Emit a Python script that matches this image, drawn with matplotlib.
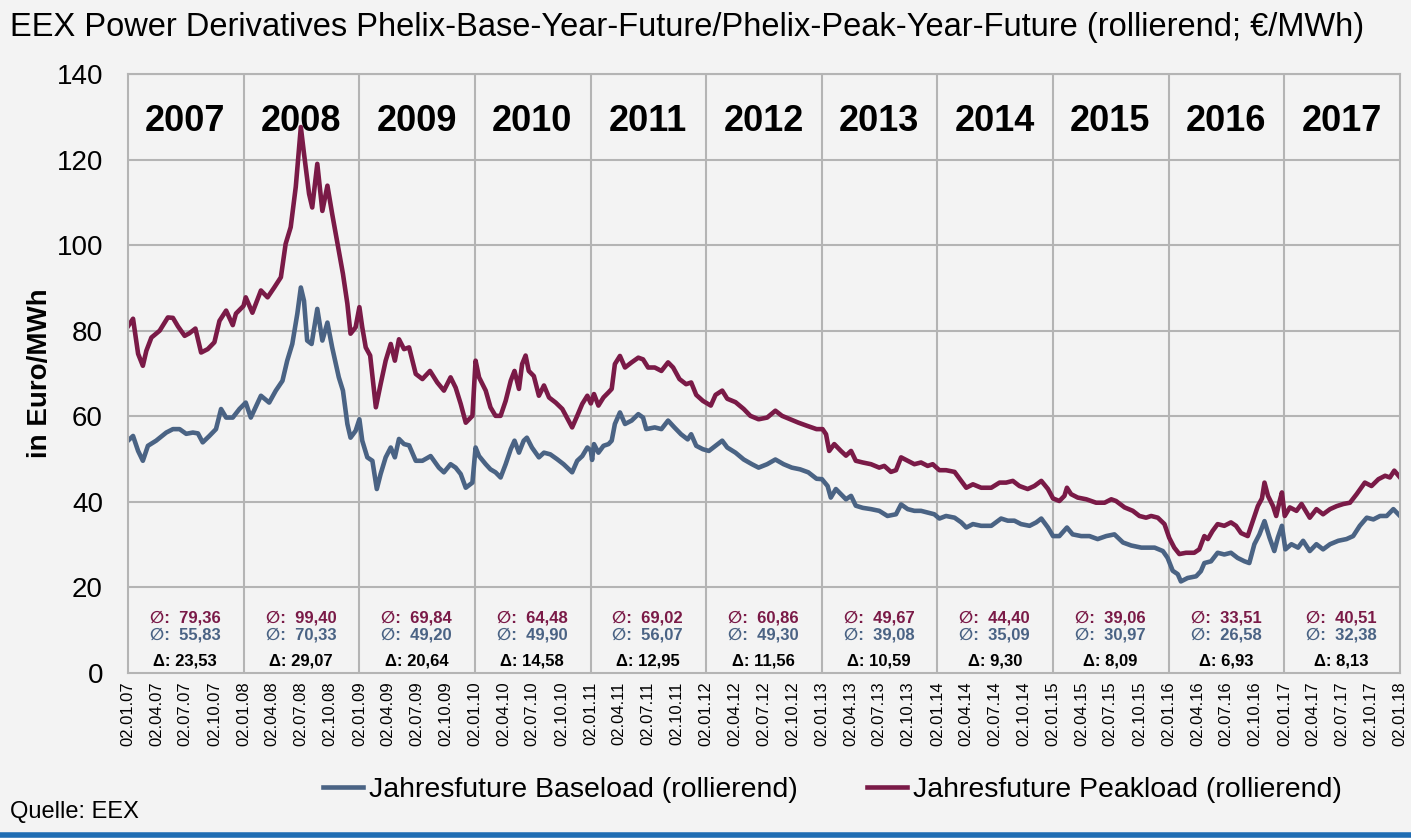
import matplotlib
matplotlib.use("Agg")
import matplotlib.pyplot as plt
from matplotlib.lines import Line2D
import pandas as pd

plt.rcParams['font.family'] = ['Liberation Sans', 'DejaVu Sans']

# Jahresfuture Peakload (rollierend)
peak_dates = [
    "2007-01-02", "2007-01-18", "2007-02-03", "2007-02-18", "2007-03-01", "2007-03-17",
    "2007-04-12", "2007-05-08", "2007-05-24", "2007-06-09", "2007-06-30", "2007-07-15",
    "2007-08-03", "2007-08-21", "2007-09-11", "2007-10-02", "2007-10-18", "2007-11-08",
    "2007-11-29", "2007-12-09",
    "2008-01-02", "2008-01-09", "2008-01-30", "2008-02-26", "2008-03-18", "2008-04-08",
    "2008-04-29", "2008-05-14", "2008-05-30", "2008-06-15", "2008-07-01", "2008-07-11",
    "2008-07-27", "2008-08-06", "2008-08-22", "2008-09-07", "2008-09-23", "2008-10-08",
    "2008-10-29", "2008-11-11", "2008-11-25", "2008-12-05", "2008-12-21",
    "2009-01-02", "2009-01-11", "2009-01-22", "2009-02-05", "2009-02-23", "2009-03-10",
    "2009-03-26", "2009-04-11", "2009-04-24", "2009-05-07", "2009-05-23", "2009-06-08",
    "2009-06-29", "2009-07-20", "2009-08-13", "2009-09-05", "2009-09-26", "2009-10-17",
    "2009-11-02", "2009-11-18", "2009-12-04", "2009-12-25",
    "2010-01-04", "2010-01-15", "2010-02-05", "2010-02-20", "2010-03-08", "2010-03-24",
    "2010-04-09", "2010-04-25", "2010-05-07", "2010-05-21", "2010-05-31", "2010-06-11",
    "2010-06-21", "2010-07-07", "2010-07-23", "2010-08-08", "2010-08-24", "2010-09-14",
    "2010-10-05", "2010-11-05", "2010-11-21", "2010-12-07", "2010-12-23",
    "2011-01-03", "2011-01-13", "2011-01-27", "2011-02-12", "2011-02-28", "2011-03-10",
    "2011-03-20", "2011-04-05", "2011-04-21", "2011-05-12", "2011-06-02", "2011-06-17",
    "2011-07-03", "2011-07-24", "2011-08-14", "2011-09-04", "2011-09-20", "2011-10-10",
    "2011-10-31", "2011-11-16", "2011-12-02", "2011-12-23",
    "2012-01-17", "2012-02-01", "2012-02-22", "2012-03-09", "2012-04-04", "2012-04-30",
    "2012-05-21", "2012-06-16", "2012-07-13", "2012-08-08", "2012-08-29", "2012-09-24",
    "2012-10-20", "2012-11-15", "2012-12-16",
    "2013-01-04", "2013-01-15", "2013-01-25", "2013-02-10", "2013-03-03", "2013-03-19",
    "2013-04-04", "2013-04-19", "2013-05-11", "2013-06-06", "2013-07-02", "2013-07-18",
    "2013-08-08", "2013-08-24", "2013-09-09", "2013-09-30", "2013-10-21", "2013-11-11",
    "2013-12-02", "2013-12-18",
    "2014-01-08", "2014-01-29", "2014-02-25", "2014-03-18", "2014-04-03", "2014-04-24",
    "2014-05-20", "2014-06-21", "2014-07-17", "2014-08-07", "2014-08-28", "2014-09-18",
    "2014-10-14", "2014-11-04", "2014-11-26", "2014-12-17",
    "2015-01-02", "2015-01-22", "2015-02-07", "2015-02-15", "2015-02-28", "2015-03-21",
    "2015-04-17", "2015-05-18", "2015-06-14", "2015-07-05", "2015-07-20", "2015-08-16",
    "2015-09-11", "2015-10-02", "2015-10-23", "2015-11-08", "2015-11-29", "2015-12-20",
    "2016-01-04", "2016-01-20", "2016-02-05", "2016-02-26", "2016-03-23", "2016-04-08",
    "2016-04-24", "2016-05-05", "2016-05-20", "2016-06-05", "2016-06-26", "2016-07-17",
    "2016-08-02", "2016-08-18", "2016-09-08", "2016-09-24", "2016-10-10", "2016-10-23",
    "2016-10-31", "2016-11-11", "2016-11-27", "2016-12-07", "2016-12-18", "2016-12-25",
    "2017-01-03", "2017-01-19", "2017-02-09", "2017-02-25", "2017-03-23", "2017-04-13",
    "2017-05-04", "2017-05-26", "2017-06-16", "2017-07-07", "2017-07-28", "2017-08-18",
    "2017-09-13", "2017-10-04", "2017-10-26", "2017-11-16", "2017-12-01", "2017-12-15",
    "2018-01-02",
]
peak_values = [
    81.0, 82.8, 74.6, 71.8, 75.3, 78.4,
    80.0, 83.1, 83.0, 81.0, 78.8, 79.4,
    80.5, 74.9, 75.7, 77.3, 82.3, 84.7,
    81.3, 84.0,
    85.8, 87.8, 84.2, 89.4, 87.8, 90.1,
    92.5, 100.3, 104.2, 113.6, 127.6, 121.4,
    112.0, 108.8, 119.0, 108.0, 113.9, 107.3,
    98.7, 93.3, 86.3, 79.3, 80.8,
    85.5, 80.8, 76.1, 74.2, 62.1, 67.5,
    73.0, 76.9, 73.0, 78.0, 75.7, 76.1,
    69.9, 68.7, 70.6, 67.9, 66.0, 69.1,
    66.7, 62.9, 58.5, 60.1,
    73.0, 69.1, 66.0, 62.1, 60.1, 60.1,
    63.6, 68.3, 70.6, 66.4, 72.2, 74.2,
    70.6, 69.4, 64.8, 67.2, 64.4, 63.2,
    61.7, 57.4, 60.1, 62.9, 64.8,
    63.0, 65.2, 62.5, 64.4, 65.6, 66.4,
    72.2, 74.1, 71.4, 72.6, 73.7, 73.3,
    71.4, 71.4, 70.6, 72.6, 71.4, 68.7,
    67.5, 67.9, 65.0, 63.6,
    62.5, 65.0, 66.0, 64.1, 63.3, 61.7,
    60.1, 59.3, 59.7, 61.3, 60.1, 59.3,
    58.5, 57.8, 57.0,
    57.0, 55.8, 51.9, 53.5, 51.9, 50.8,
    51.9, 49.6, 49.2, 48.8, 48.0, 48.4,
    47.0, 47.4, 50.4, 49.6, 48.8, 49.2,
    48.4, 48.8,
    47.4, 47.4, 47.0, 44.9, 43.3, 44.1,
    43.3, 43.3, 44.5, 44.5, 44.9, 43.7,
    43.0, 43.7, 44.9, 43.0,
    40.8, 40.2, 41.4, 43.3, 41.8, 41.0,
    40.6, 39.8, 39.8, 40.6, 40.2, 38.7,
    37.9, 36.7, 36.3, 36.7, 36.3, 34.8,
    31.6, 29.3, 27.8, 28.1, 28.1, 28.9,
    32.0, 31.3, 33.2, 34.8, 34.4, 35.2,
    34.4, 32.7, 32.0, 35.5, 39.0, 40.8,
    44.5, 41.4, 39.0, 36.7, 40.2, 42.2,
    36.7, 38.7, 37.9, 39.5, 36.3, 38.3,
    37.1, 38.3, 39.0, 39.5, 39.8, 41.8,
    44.5, 43.7, 45.3, 46.1, 45.7, 47.3,
    45.7,
]

# Jahresfuture Baseload (rollierend)
base_dates = [
    "2007-01-02", "2007-01-18", "2007-02-03", "2007-02-18", "2007-03-06", "2007-04-01",
    "2007-05-03", "2007-05-24", "2007-06-14", "2007-07-05", "2007-07-26", "2007-08-11",
    "2007-08-26", "2007-09-16", "2007-10-07", "2007-10-23", "2007-11-08", "2007-11-29",
    "2007-12-20",
    "2008-01-09", "2008-01-25", "2008-02-26", "2008-03-23", "2008-04-13", "2008-05-04",
    "2008-05-19", "2008-06-04", "2008-06-20", "2008-07-01", "2008-07-11", "2008-07-21",
    "2008-08-04", "2008-08-22", "2008-09-07", "2008-09-23", "2008-10-08", "2008-10-29",
    "2008-11-11", "2008-11-25", "2008-12-05", "2008-12-21",
    "2009-01-02", "2009-01-11", "2009-01-27", "2009-02-12", "2009-02-26", "2009-03-10",
    "2009-03-26", "2009-04-11", "2009-04-24", "2009-05-07", "2009-05-23", "2009-06-08",
    "2009-06-29", "2009-07-20", "2009-08-15", "2009-09-10", "2009-09-26", "2009-10-17",
    "2009-11-02", "2009-11-18", "2009-12-04", "2009-12-25",
    "2010-01-04", "2010-01-15", "2010-02-05", "2010-02-20", "2010-03-08", "2010-03-24",
    "2010-04-09", "2010-04-25", "2010-05-07", "2010-05-21", "2010-06-05", "2010-06-15",
    "2010-07-01", "2010-07-23", "2010-08-08", "2010-08-28", "2010-09-18", "2010-10-09",
    "2010-11-05", "2010-11-21", "2010-12-07", "2010-12-23",
    "2011-01-03", "2011-01-07", "2011-01-13", "2011-01-27", "2011-02-12", "2011-02-28",
    "2011-03-10", "2011-03-20", "2011-04-05", "2011-04-21", "2011-05-12", "2011-06-02",
    "2011-06-17", "2011-06-27", "2011-07-24", "2011-08-14", "2011-09-04", "2011-09-24",
    "2011-10-15", "2011-11-05", "2011-11-16", "2011-12-02", "2011-12-23",
    "2012-01-11", "2012-02-01", "2012-02-22", "2012-03-09", "2012-04-04", "2012-04-30",
    "2012-05-26", "2012-06-16", "2012-07-13", "2012-08-08", "2012-09-03", "2012-09-29",
    "2012-10-25", "2012-11-20", "2012-12-16",
    "2013-01-02", "2013-01-20", "2013-01-30", "2013-02-15", "2013-03-03", "2013-03-19",
    "2013-04-04", "2013-04-19", "2013-05-11", "2013-06-06", "2013-07-02", "2013-07-28",
    "2013-08-24", "2013-09-09", "2013-09-30", "2013-10-21", "2013-11-11", "2013-12-02",
    "2013-12-23",
    "2014-01-08", "2014-01-29", "2014-02-25", "2014-03-18", "2014-04-03", "2014-04-24",
    "2014-05-20", "2014-06-21", "2014-07-22", "2014-08-12", "2014-09-02", "2014-09-23",
    "2014-10-20", "2014-11-10", "2014-11-26", "2014-12-17",
    "2015-01-02", "2015-01-22", "2015-02-15", "2015-03-05", "2015-04-01", "2015-04-27",
    "2015-05-23", "2015-06-19", "2015-07-15", "2015-08-11", "2015-09-06", "2015-10-08",
    "2015-10-29", "2015-11-19", "2015-12-15", "2015-12-30",
    "2016-01-15", "2016-01-31", "2016-02-10", "2016-03-02", "2016-03-29", "2016-04-13",
    "2016-04-24", "2016-05-15", "2016-06-05", "2016-06-26", "2016-07-17", "2016-08-07",
    "2016-08-29", "2016-09-13", "2016-09-29", "2016-10-15", "2016-10-31", "2016-11-16",
    "2016-12-01", "2016-12-12", "2016-12-25",
    "2017-01-05", "2017-01-24", "2017-02-14", "2017-03-02", "2017-03-23", "2017-04-13",
    "2017-05-04", "2017-05-26", "2017-06-21", "2017-07-17", "2017-08-07", "2017-08-28",
    "2017-09-19", "2017-10-10", "2017-10-31", "2017-11-21", "2017-12-12", "2018-01-02",
]
base_values = [
    54.3, 55.4, 51.9, 49.6, 53.1, 54.3,
    56.2, 57.0, 57.0, 55.9, 56.2, 56.0,
    53.9, 55.4, 57.0, 61.7, 59.7, 59.7,
    61.7,
    63.2, 59.7, 64.8, 63.2, 66.0, 68.3,
    73.0, 76.9, 84.0, 90.1, 87.0, 77.7,
    76.9, 85.1, 77.7, 81.9, 76.1, 69.1,
    66.0, 58.2, 55.0, 56.6,
    59.3, 54.3, 50.4, 49.6, 43.0, 46.5,
    50.4, 52.7, 50.4, 54.7, 53.5, 53.2,
    49.6, 49.6, 50.7, 48.0, 46.9, 48.8,
    48.0, 46.5, 43.3, 44.5,
    52.7, 50.7, 48.8, 47.6, 46.9, 45.7,
    48.8, 52.3, 54.3, 51.5, 54.3, 55.0,
    52.7, 50.4, 51.5, 51.1, 50.0, 48.8,
    46.9, 49.6, 50.7, 52.7,
    52.0, 49.8, 53.5, 51.5, 53.1, 53.5,
    54.3, 58.2, 60.9, 58.2, 59.0, 60.5,
    59.7, 57.0, 57.4, 57.0, 59.0, 57.4,
    55.8, 54.6, 55.8, 53.1, 52.3,
    51.9, 53.1, 54.3, 52.7, 51.5, 49.9,
    48.8, 48.0, 48.8, 49.9, 48.8, 48.0,
    47.6, 46.9, 45.4,
    45.3, 43.7, 41.0, 43.0, 41.8, 40.6,
    41.4, 39.1, 38.6, 38.3, 37.9, 36.7,
    37.1, 39.4, 38.3, 37.9, 37.9, 37.5,
    37.1,
    36.1, 36.7, 36.3, 35.2, 34.0, 34.8,
    34.4, 34.4, 36.1, 35.6, 35.6, 34.8,
    34.4, 35.2, 36.1, 34.0,
    32.0, 32.0, 34.0, 32.4, 32.0, 32.0,
    31.3, 32.0, 32.4, 30.5, 29.8, 29.3,
    29.3, 29.3, 28.5, 26.9,
    23.9, 23.1, 21.4, 22.2, 22.6, 23.8,
    25.7, 26.1, 28.1, 27.7, 28.1, 26.9,
    26.1, 25.7, 30.1, 32.4, 35.5, 31.6,
    28.5, 31.6, 34.4,
    28.9, 30.1, 29.3, 30.9, 28.5, 30.1,
    28.9, 30.1, 30.9, 31.3, 32.0, 34.4,
    36.3, 35.9, 36.7, 36.7, 38.3, 36.7,
]

years = ["2007", "2008", "2009", "2010", "2011", "2012", "2013", "2014", "2015", "2016", "2017"]
peak_avg = ["79,36", "99,40", "69,84", "64,48", "69,02", "60,86", "49,67", "44,40", "39,06", "33,51", "40,51"]
base_avg = ["55,83", "70,33", "49,20", "49,90", "56,07", "49,30", "39,08", "35,09", "30,97", "26,58", "32,38"]
delta = ["23,53", "29,07", "20,64", "14,58", "12,95", "11,56", "10,59", "9,30", "8,09", "6,93", "8,13"]

peak_color = "#7a1a47"
base_color = "#4a6384"
bg = "#f3f3f3"
grid_color = "#b4b4b4"

fig = plt.figure(figsize=(14.11, 8.38), dpi=100, facecolor=bg)
ax = fig.add_axes([0.0907, 0.1969, 0.9015, 0.7148], facecolor=bg)

ax.plot(pd.to_datetime(base_dates), base_values, color=base_color, lw=3.3,
        label="Jahresfuture Baseload (rollierend)", solid_joinstyle="round")
ax.plot(pd.to_datetime(peak_dates), peak_values, color=peak_color, lw=3.3,
        label="Jahresfuture Peakload (rollierend)", solid_joinstyle="round")

ax.set_xlim(pd.Timestamp("2007-01-02"), pd.Timestamp("2018-01-02"))
ax.set_ylim(0, 140)
ax.set_yticks(range(0, 141, 20))
ax.tick_params(axis="y", labelsize=20, length=0, pad=18)

# quarterly date ticks (02.01., 02.04., ...), gridlines only at year starts
ticks = pd.date_range("2007-01-01", "2018-01-01", freq="3MS") + pd.Timedelta(days=1)
ax.set_xticks(ticks)
ax.set_xticklabels([t.strftime("%d.%m.%y") for t in ticks], rotation=90, fontsize=12)
ax.tick_params(axis="x", length=0, pad=6)

for y in range(20, 141, 20):
    ax.axhline(y, color=grid_color, lw=1.5, zorder=0)
for yr in range(2008, 2018):
    ax.axvline(pd.Timestamp(f"{yr}-01-02"), color=grid_color, lw=1.5, zorder=0)
for s in ax.spines.values():
    s.set_color(grid_color)
    s.set_linewidth(1.5)

ax.set_ylabel("in Euro/MWh", fontsize=20, fontweight="bold")
ax.yaxis.set_label_coords(-0.059, 0.5)

for i, yr in enumerate(years):
    mid = pd.Timestamp(f"{yr}-07-02")
    ax.text(mid, 129.0, yr, ha="center", va="center", fontsize=26, fontweight="bold")
    ax.text(mid, 12.9, "\u2205:  " + peak_avg[i], ha="center", va="center",
            fontsize=12, fontweight="bold", color=peak_color)
    ax.text(mid, 8.9, "\u2205:  " + base_avg[i], ha="center", va="center",
            fontsize=12, fontweight="bold", color=base_color)
    ax.text(mid, 2.8, "\u0394: " + delta[i], ha="center", va="center",
            fontsize=12, fontweight="bold", color="black")

fig.text(0.007, 0.967, "EEX Power Derivatives Phelix-Base-Year-Future/Phelix-Peak-Year-Future (rollierend; \u20ac/MWh)",
         fontsize=23.5, va="center", ha="left")
fig.text(0.007, 0.031, "Quelle: EEX", fontsize=17, va="center", ha="left")

fig.legend(loc="center", bbox_to_anchor=(0.59, 0.057), ncol=2, frameon=False,
           fontsize=20.5, handlelength=1.4, handletextpad=0.2, columnspacing=2.45)

fig.add_artist(Line2D([0, 1], [0.003, 0.003], transform=fig.transFigure,
                      color="#1f6db3", lw=4))

fig.savefig("out.png", dpi=100, facecolor=bg)
